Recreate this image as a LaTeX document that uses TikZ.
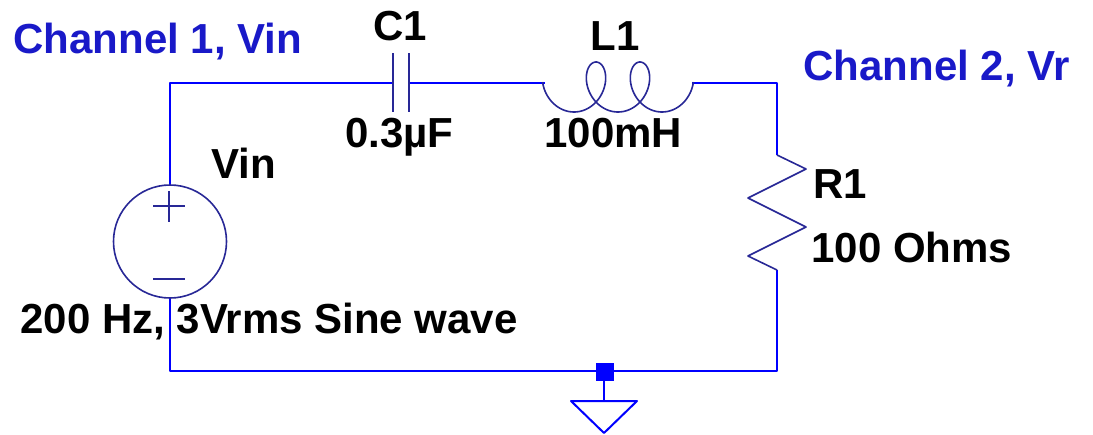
\documentclass[tikz,border=0pt]{standalone}
\usepackage{fontspec}
\setmainfont{Liberation Sans}
\usepackage{tikz}

\definecolor{fio}{RGB}{0,0,255}
\definecolor{comp}{RGB}{40,40,150}
\definecolor{rot}{RGB}{25,25,200}

\begin{document}
\begin{tikzpicture}[x=0.5pt, y=-0.5pt, line join=round,
  fio/.style={draw=fio, line width=1pt},
  comp/.style={draw=comp, line width=0.8pt},
  lbl/.style={anchor=base west, inner sep=0pt, font=\fontsize{21}{25}\selectfont\bfseries},
  canal/.style={lbl, text=rot}]
\useasboundingbox (0,0) rectangle (1093,434);

% Pontos do circuito
\coordinate (ne) at (170,83);
\coordinate (nd) at (777,83);
\coordinate (se) at (170,371);
\coordinate (sd) at (777,371);
\coordinate (vtop) at (170,185);
\coordinate (vbot) at (170,298);
\coordinate (c1a) at (393,83);
\coordinate (c1b) at (409,83);
\coordinate (l1a) at (545,83);
\coordinate (l1b) at (692,83);
\coordinate (r1a) at (777,155);
\coordinate (r1b) at (777,270);
\coordinate (gnd) at (604,371);
\coordinate (gt) at (604,401);

% Fios
\draw[fio] (vtop) -- (ne) -- (c1a);
\draw[fio] (c1b) -- (l1a);
\draw[fio] (l1b) -- (nd) -- (r1a);
\draw[fio] (r1b) -- (sd) -- (se) -- (vbot);

% Fonte Vin
\draw[comp] (170,241.5) circle[radius=56.5];
\draw[comp] (153,206) -- (185,206) (169,191) -- (169,222);
\draw[comp] (153,279) -- (185,279);

% Capacitor C1
\draw[comp] (393,53) -- (393,112) (409,53) -- (409,112);

% Indutor L1
\draw[comp] plot[domain=-4.914:11.197, samples=220, smooth, variable=\t]
  ({596+7*\t-19.4*sin(\t r)}, {62+25*(1-cos(\t r))});

% Resistor R1
\draw[comp] (r1a) -- (806,169) -- (748,198) -- (806,227) -- (748,256) -- (r1b);

% Terra
\fill[fill=fio] (595.5,362.5) rectangle (613.5,380.5);
\draw[fio] (gnd) -- (gt);
\draw[fio] (571,401) -- (637,401) -- (604,433) -- cycle;

% Textos
\node[canal] (ch1) at (13,53) {Channel 1, Vin};
\node[canal] (ch2) at (803,80) {Channel 2, Vr};
\node[lbl] (c1) at (373,40) {C1};
\node[lbl] (c1v) at (345,147) {0.3µF};
\node[lbl] (l1) at (590,50) {L1};
\node[lbl] (l1v) at (544,147) {100mH};
\node[lbl] (vin) at (211,178) {Vin};
\node[lbl] (vinv) at (20,333) {200 Hz, 3Vrms Sine wave};
\node[lbl] (r1) at (813,198) {R1};
\node[lbl] (r1v) at (811,262) {100 Ohms};
\end{tikzpicture}
\end{document}
